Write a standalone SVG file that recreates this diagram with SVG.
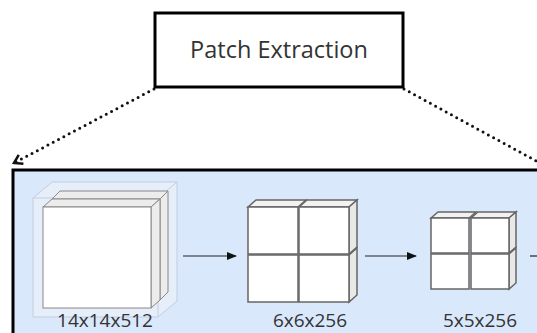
<svg xmlns="http://www.w3.org/2000/svg" width="537" height="333" viewBox="0 0 537 333">
<style>
.lbl{font-family:"Open Sans","Noto Sans",sans-serif;fill:#333;text-anchor:middle}
.cf{fill:#fff;stroke:#666;stroke-width:1.5}
.cs{fill:#e8e8e8;stroke:#666;stroke-width:1.5}
.ct{fill:#f2f2f2;stroke:#666;stroke-width:1.5}
.bf{fill:#fff;stroke:#888;stroke-width:1}
.bs{fill:#ececec;stroke:#888;stroke-width:1}
.dot{fill:none;stroke:#111;stroke-width:3;stroke-linecap:round;stroke-dasharray:0 6}
.arr{stroke:#222;stroke-width:1.2;fill:none}
</style>
<defs>
<marker id="ah" markerWidth="10" markerHeight="8" refX="9" refY="4" orient="auto" markerUnits="userSpaceOnUse">
<path d="M0,0 L10,4 L0,8 Z" fill="#111"/>
</marker>
<marker id="open" markerWidth="12" markerHeight="12" refX="10" refY="6" orient="auto" markerUnits="userSpaceOnUse">
<path d="M2,1 L10,6 L2,11" fill="none" stroke="#111" stroke-width="2.5"/>
</marker>
</defs>
<rect width="537" height="333" fill="#fff"/>
<g id="panel">
<rect x="13" y="170" width="530" height="170" fill="#dae8fc"/>
<path d="M13,340 L13,170 L537,170" fill="none" stroke="#000" stroke-width="3"/>
</g>
<g id="patch-extraction">
<rect x="155" y="13" width="248" height="74" fill="#fff" stroke="#000" stroke-width="3"/>
<text class="lbl" x="279" y="58" font-size="23.5">Patch Extraction</text>
</g>
<g id="connectors">
<path class="dot" d="M154,89 L14,163" marker-end="url(#open)"/>
<path class="dot" d="M404,89 L540,163"/>
<path class="arr" d="M183,256 L236,256" marker-end="url(#ah)"/>
<path class="arr" d="M365,256 L416,256" marker-end="url(#ah)"/>
<path class="arr" d="M530,256 L537,256"/>
</g>
<g id="block-14x14x512">
<path d="M33,198 L52,182 L177,182 L177,301 L158,317 L33,317 Z" fill="#e6eefa" stroke="#c2cde0" stroke-width="1"/>
<path d="M33,198 L158,198 L177,182 M158,198 L158,317" fill="none" stroke="#c2cde0" stroke-width="1"/>
<path class="bs" d="M52,199 L60,191 L168,191 L160,199 Z"/>
<path class="bs" d="M160,199 L168,191 L168,292 L160,300 Z"/>
<path class="bs" d="M43,207 L52,199 L160,199 L151,207 Z"/>
<path class="bs" d="M151,207 L160,199 L160,300 L151,308 Z"/>
<rect class="bf" x="43" y="207" width="108" height="101"/>
<text class="lbl" x="105" y="327" font-size="19">14x14x512</text>
</g>
<g id="block-6x6x256">
<path class="ct" d="M248,207 L256,200 L306,200 L298,207 Z"/>
<path class="ct" d="M299,207 L307,200 L357,200 L349,207 Z"/>
<path class="cs" d="M349,207 L357,200 L357,247 L349,254 Z"/>
<path class="cs" d="M349,255 L357,248 L357,295 L349,302 Z"/>
<rect class="cf" x="248" y="207" width="50" height="47"/>
<rect class="cf" x="299" y="207" width="50" height="47"/>
<rect class="cf" x="248" y="255" width="50" height="47"/>
<rect class="cf" x="299" y="255" width="50" height="47"/>
<text class="lbl" x="310" y="327" font-size="19">6x6x256</text>
</g>
<g id="block-5x5x256">
<path class="ct" d="M431,218 L438,212 L476,212 L469,218 Z"/>
<path class="ct" d="M471,218 L478,212 L516,212 L509,218 Z"/>
<path class="cs" d="M509,218 L516,212 L516,247 L509,253 Z"/>
<path class="cs" d="M509,254 L516,248 L516,283 L509,289 Z"/>
<rect class="cf" x="431" y="218" width="38" height="35"/>
<rect class="cf" x="471" y="218" width="38" height="35"/>
<rect class="cf" x="431" y="254" width="38" height="35"/>
<rect class="cf" x="471" y="254" width="38" height="35"/>
<text class="lbl" x="480" y="327" font-size="19">5x5x256</text>
</g>
</svg>
